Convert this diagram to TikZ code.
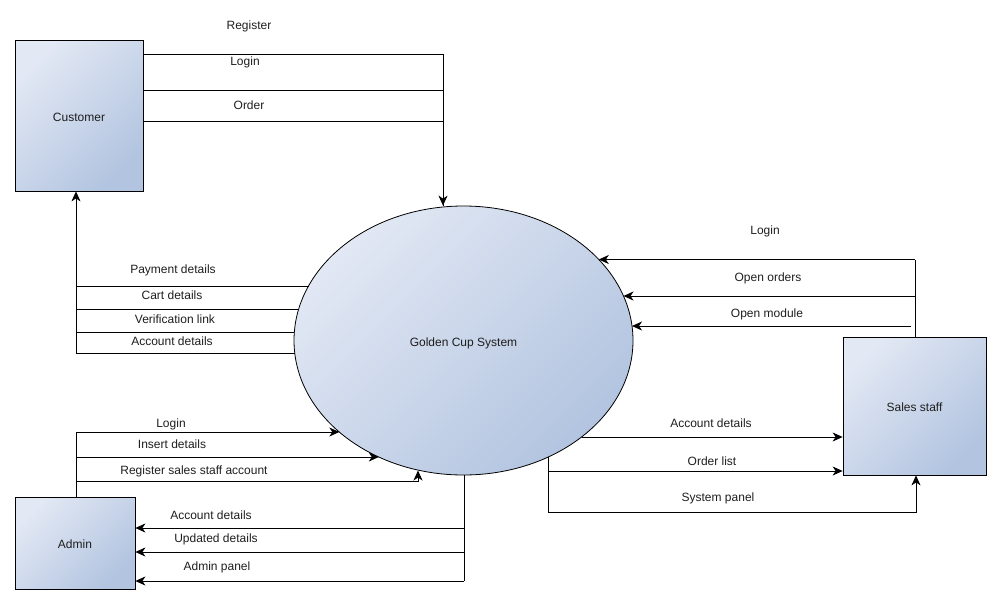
\documentclass[tikz,border=0pt]{standalone}
\usepackage{fontspec}
\setmainfont{Liberation Sans}
\usetikzlibrary{arrows.meta,shapes.geometric}
\definecolor{lite}{HTML}{E2E8F4}
\definecolor{dark}{HTML}{B2C4E0}
\definecolor{ink}{HTML}{1E1E1E}
\begin{document}
\begin{tikzpicture}[x=1pt,y=-1pt, font=\fontsize{12}{14}\selectfont,
  ent/.style={draw, line width=0.8pt, top color=lite, bottom color=dark, shading angle=45, inner sep=0, text=ink, text height=11.6pt, text depth=0pt},
  flow/.style={line width=0.8pt},
  arr/.style={flow, -{Stealth[length=10pt,width=9pt,inset=3pt]}},
  lbl/.style={inner sep=0, text=ink, text height=8.6pt, text depth=0pt}]
\useasboundingbox (0,0) rectangle (1001,605);
% entities
\node[ent, minimum width=128pt, minimum height=151pt] (customer) at (79,115.5) {Customer};
\node[ent, minimum width=120pt, minimum height=92pt] (admin) at (75,543) {Admin};
\node[ent, minimum width=143pt, minimum height=138pt] (sales) at (914.5,406) {Sales staff};
\node[ent, ellipse, minimum width=339pt, minimum height=269pt] (sys) at (463.5,340.5) {Golden Cup System};
% customer -> system
\draw[flow] (customer.east |- 0,54) -| (sys.north -| 443,0);
\draw[flow] (customer.east |- 0,90) -| (sys.north -| 443,0);
\draw[arr] (customer.east |- 0,121) -| (sys.north -| 443,0);
\node[lbl] (reg) at (249,25) {Register};
\node[lbl] (clog) at (245,61) {Login};
\node[lbl] (ord) at (249,105) {Order};
% system -> customer
\coordinate (c1) at (308.5,286);
\coordinate (c2) at (298.7,309);
\coordinate (c3) at (294.3,332);
\coordinate (c4) at (294.7,353);
\draw[flow] (c1) -- (76,286);
\draw[flow] (c2) -- (76,309);
\draw[flow] (c3) -- (76,332);
\draw[arr] (c4) -- (76,353) -- (customer.south -| 76,0);
\node[lbl] (pay) at (173,269) {Payment details};
\node[lbl] (cart) at (172,295) {Cart details};
\node[lbl] (ver) at (175,319) {Verification link};
\node[lbl] (cacc) at (172,341) {Account details};
% admin -> system
\coordinate (a1) at (339.3,432);
\coordinate (a2) at (378.8,457);
\coordinate (a3) at (418,470.5);
\draw[flow] (admin.north -| 76,0) -- (76,432);
\draw[arr] (76,432) -- (a1);
\draw[arr] (76,457) -- (a2);
\draw[arr] (76,481) -| (a3);
\node[lbl] (alog) at (171,423) {Login};
\node[lbl] (ins) at (172,444) {Insert details};
\node[lbl] (rss) at (194,470) {Register sales staff account};
% system -> admin
\draw[flow] (sys.south -| 464,0) -- (464,581);
\draw[arr] (464,528) -- (admin.east |- 0,528);
\draw[arr] (464,552) -- (admin.east |- 0,552);
\draw[arr] (464,581) -- (admin.east |- 0,581);
\node[lbl] (aacc) at (211,515) {Account details};
\node[lbl] (upd) at (216,538) {Updated details};
\node[lbl] (apan) at (217,566) {Admin panel};
% sales -> system
\coordinate (s1) at (598.8,259.5);
\coordinate (s2) at (623.5,296);
\coordinate (s3) at (632,326);
\draw[flow] (sales.north -| 915,0) -- (915,259.5);
\draw[arr] (915,259.5) -- (s1);
\draw[arr] (915,296) -- (s2);
\draw[arr] (911,326) -- (s3);
\node[lbl] (slog) at (765,230) {Login};
\node[lbl] (oord) at (768,277) {Open orders};
\node[lbl] (omod) at (767,313) {Open module};
% system -> sales
\coordinate (t1) at (581.6,437);
\coordinate (t2) at (548,457.1);
\draw[arr] (t1) -- (sales.west |- 0,437);
\draw[arr] (548,471) -- (sales.west |- 0,471);
\draw[arr] (t2) -- (548,512) -| (sales.south -| 916,0);
\node[lbl] (sacc) at (711,423) {Account details};
\node[lbl] (olist) at (712,461) {Order list};
\node[lbl] (span) at (718,497) {System panel};
\end{tikzpicture}
\end{document}
